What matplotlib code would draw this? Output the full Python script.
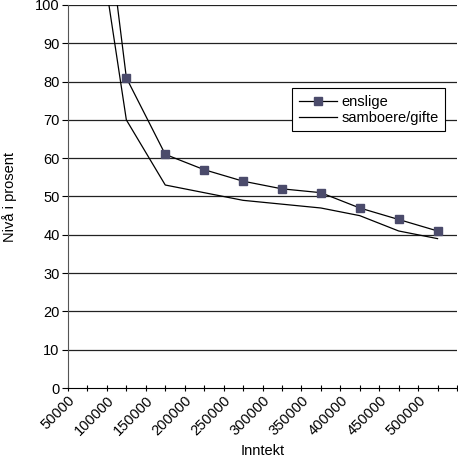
import matplotlib
matplotlib.use("Agg")
import matplotlib.pyplot as plt

# category labels on the x axis (Inntekt)
income_labels = ["50000", "100000", "150000", "200000", "250000",
                 "300000", "350000", "400000", "450000", "500000"]

# values (first point lies above the 100 limit)
enslige = [163, 81, 61, 57, 54, 52, 51, 47, 44, 41]
samboere = [137, 70, 53, 51, 49, 48, 47, 45, 41, 39]

plt.rcParams['font.family'] = ['Liberation Sans', 'DejaVu Sans']
plt.rcParams['font.size'] = 10.5

fig = plt.figure(figsize=(4.58, 4.61), dpi=100)
ax = fig.add_axes([68 / 458, 73 / 461, 389 / 458, 383 / 461])

n = len(income_labels)
# each category is two minor steps wide, points sit in the middle
x_pts = [2 * i + 1 for i in range(n)]

ax.plot(x_pts, enslige, color="black", lw=0.9, marker="s", ms=6,
        mfc="#4b4b6b", mec="#4b4b6b", label="enslige")
ax.plot(x_pts, samboere, color="black", lw=0.9, label="samboere/gifte")

ax.set_xlim(0, 2 * n)
ax.set_ylim(0, 100)
ax.set_yticks(range(0, 101, 10))
ax.set_xticks(range(0, 2 * n + 1))
ax.set_xticklabels([income_labels[i // 2] if i % 2 == 0 and i < 2 * n else ""
                    for i in range(0, 2 * n + 1)],
                   rotation=45, ha="right", rotation_mode="anchor")
ax.tick_params(axis="x", length=4, width=0.8, direction="inout", pad=2)
ax.tick_params(axis="y", length=4, width=0.8, direction="out", pad=2)

for y in range(10, 101, 10):
    ax.axhline(y, color="#222222", lw=0.9, zorder=0)

ax.spines["top"].set_visible(False)
ax.spines["right"].set_visible(False)
ax.spines["left"].set_color("#555555")
ax.spines["bottom"].set_color("black")

ax.set_xlabel("Inntekt", labelpad=4)
ax.set_ylabel("Nivå i prosent", labelpad=13)

leg = ax.legend(loc="upper right", bbox_to_anchor=(0.969, 0.783),
                borderaxespad=0, fancybox=False, framealpha=1,
                edgecolor="black", handlelength=2.6, handletextpad=0.3,
                labelspacing=0.15, borderpad=0.45)
leg.get_frame().set_linewidth(0.8)

fig.savefig("out.png", dpi=100)
